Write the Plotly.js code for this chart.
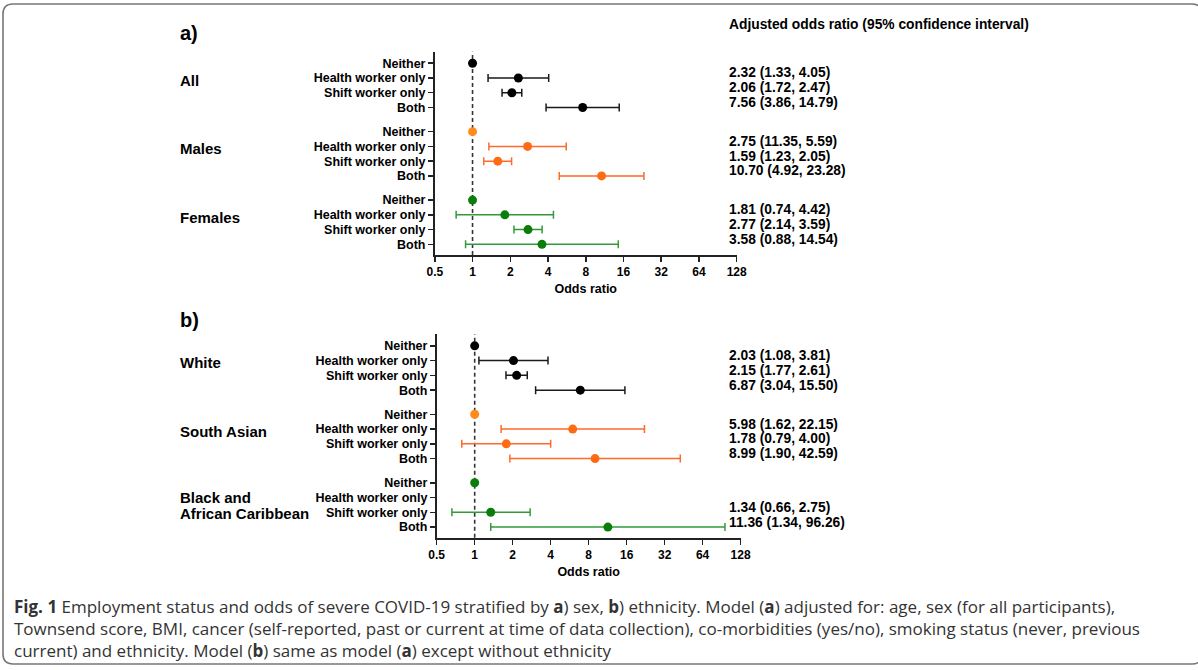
<!DOCTYPE html>
<html>
<head>
<meta charset="utf-8">
<script src="https://cdn.plot.ly/plotly-3.0.1.min.js"></script>
<style>
  html, body { margin: 0; padding: 0; background: #fff; }
  #chart { width: 1198px; height: 670px; }
</style>
</head>
<body>
<div id="chart"></div>
<script>
// ---------------- DATA ----------------
const categories = ['Neither', 'Health worker only', 'Shift worker only', 'Both'];
const xTickVals = [0.5, 1, 2, 4, 8, 16, 32, 64, 128];
const xTickText = ['0.5', '1', '2', '4', '8', '16', '32', '64', '128'];

// Panel a) by sex
const groupsA = ['All', 'Males', 'Females'];
const orAll      = [1, 2.32, 2.06, 7.56];
const loAll      = [null, 1.33, 1.72, 3.86];
const hiAll      = [null, 4.05, 2.47, 14.79];
const txtAll     = ['', '2.32 (1.33, 4.05)', '2.06 (1.72, 2.47)', '7.56 (3.86, 14.79)'];
const orMales    = [1, 2.75, 1.59, 10.70];
const loMales    = [null, 1.35, 1.23, 4.92];
const hiMales    = [null, 5.59, 2.05, 23.28];
const txtMales   = ['', '2.75 (11.35, 5.59)', '1.59 (1.23, 2.05)', '10.70 (4.92, 23.28)'];
const orFemales  = [1, 1.81, 2.77, 3.58];
const loFemales  = [null, 0.74, 2.14, 0.88];
const hiFemales  = [null, 4.42, 3.59, 14.54];
const txtFemales = ['', '1.81 (0.74, 4.42)', '2.77 (2.14, 3.59)', '3.58 (0.88, 14.54)'];

// Panel b) by ethnicity
const groupsB = ['White', 'South Asian', 'Black and<br>African Caribbean'];
const orWhite    = [1, 2.03, 2.15, 6.87];
const loWhite    = [null, 1.08, 1.77, 3.04];
const hiWhite    = [null, 3.81, 2.61, 15.50];
const txtWhite   = ['', '2.03 (1.08, 3.81)', '2.15 (1.77, 2.61)', '6.87 (3.04, 15.50)'];
const orSAsian   = [1, 5.98, 1.78, 8.99];
const loSAsian   = [null, 1.62, 0.79, 1.90];
const hiSAsian   = [null, 22.15, 4.00, 42.59];
const txtSAsian  = ['', '5.98 (1.62, 22.15)', '1.78 (0.79, 4.00)', '8.99 (1.90, 42.59)'];
const orBlack    = [1, null, 1.34, 11.36];
const loBlack    = [null, null, 0.66, 1.34];
const hiBlack    = [null, null, 2.75, 96.26];
const txtBlack   = ['', '', '1.34 (0.66, 2.75)', '11.36 (1.34, 96.26)'];

const tableHeader = 'Adjusted odds ratio (95% confidence interval)';
const xTitle = 'Odds ratio';
const captionLines = [
  '<b>Fig. 1</b> Employment status and odds of severe COVID-19 stratified by <b>a</b>) sex, <b>b</b>) ethnicity. Model (<b>a</b>) adjusted for: age, sex (for all participants),',
  'Townsend score, BMI, cancer (self-reported, past or current at time of data collection), co-morbidities (yes/no), smoking status (never, previous',
  'current) and ethnicity. Model (<b>b</b>) same as model (<b>a</b>) except without ethnicity'
];

// ---------------- STYLE ----------------
const W = 1198, H = 670;
const FONT = 'Liberation Sans, Arial, Helvetica, sans-serif';
const groupStyles = [
  {marker: '#000000', bar: '#1a1a1a', ref: '#000000'},
  {marker: '#ff6a14', bar: '#ff6a2a', ref: '#ff8c1a'},
  {marker: '#0a7d0a', bar: '#33993a', ref: '#0a7d0a'}
];
const GROUP_STEP = 4.635;       // rows between group starts
const LABEL_LINE = 1.08;        // rows between lines of a group label
const px = v => v / W;          // pixel -> paper x
const py = v => 1 - v / H;      // pixel -> paper y

const panels = [
  {
    label: 'a)', groups: groupsA,
    series: [
      {or: orAll, lo: loAll, hi: hiAll, txt: txtAll},
      {or: orMales, lo: loMales, hi: hiMales, txt: txtMales},
      {or: orFemales, lo: loFemales, hi: hiFemales, txt: txtFemales}
    ],
    xDom: [434.8, 736.7], yDom: [51.7, 255], labelY: 33, headerY: 25
  },
  {
    label: 'b)', groups: groupsB,
    series: [
      {or: orWhite, lo: loWhite, hi: hiWhite, txt: txtWhite},
      {or: orSAsian, lo: loSAsian, hi: hiSAsian, txt: txtSAsian},
      {or: orBlack, lo: loBlack, hi: hiBlack, txt: txtBlack}
    ],
    xDom: [436.7, 740.6], yDom: [334.3, 537.7], labelY: 320, headerY: null
  }
];

const traces = [];
const annotations = [];
const shapes = [];
const layout = {
  width: W, height: H,
  margin: {l: 0, r: 0, t: 0, b: 0},
  paper_bgcolor: '#ffffff', plot_bgcolor: '#ffffff',
  showlegend: false,
  font: {family: FONT, color: '#000'}
};

panels.forEach((p, pi) => {
  const sfx = pi === 0 ? '' : String(pi + 1);
  const xa = 'x' + sfx, ya = 'y' + sfx;
  const tickVals = [], tickText = [];
  p.series.forEach((s, g) => {
    const st = groupStyles[g];
    const ys = categories.map((c, i) => g * GROUP_STEP + i);
    ys.forEach((y, i) => { tickVals.push(y); tickText.push(categories[i]); });
    const plus = s.or.map((v, i) => (s.hi[i] == null || v == null) ? NaN : s.hi[i] - v);
    const minus = s.or.map((v, i) => (s.lo[i] == null || v == null) ? NaN : v - s.lo[i]);
    traces.push({
      type: 'scatter', mode: 'markers', xaxis: xa, yaxis: ya,
      x: s.or, y: ys, cliponaxis: false,
      marker: {size: 9, color: s.or.map((v, i) => i === 0 ? st.ref : st.marker)},
      error_x: {type: 'data', symmetric: false, array: plus, arrayminus: minus,
                color: st.bar, thickness: 1.5, width: 4},
      hoverinfo: 'x+y'
    });
    // OR (95% CI) text column
    s.txt.forEach((t, i) => {
      if (!t) return;
      annotations.push({
        xref: 'paper', yref: ya, x: px(727), y: ys[i], yshift: 5,
        xanchor: 'left', yanchor: 'middle', showarrow: false, text: t,
        font: {family: FONT, size: 13.8, weight: 'bold', color: '#000'}
      });
    });
    // Group label (each line placed separately for tight line spacing)
    const lines = p.groups[g].split('<br>');
    const center = ys[0] + 1.15 + 0.4 * (lines.length - 1);
    lines.forEach((ln, k) => {
      annotations.push({
        xref: 'paper', yref: ya, x: px(178),
        y: center + (k - (lines.length - 1) / 2) * LABEL_LINE,
        xanchor: 'left', yanchor: 'middle', showarrow: false, align: 'left',
        text: ln,
        font: {family: FONT, size: 15, weight: 'bold', color: '#000'}
      });
    });
  });

  layout['xaxis' + sfx] = {
    domain: [px(p.xDom[0]), px(p.xDom[1])], anchor: ya,
    type: 'log', range: [Math.log10(0.5), Math.log10(128)],
    tickvals: xTickVals, ticktext: xTickText,
    ticks: 'outside', ticklen: 5, tickwidth: 1.5, tickcolor: '#222',
    showline: true, linecolor: '#222', linewidth: 1.8,
    showgrid: false, zeroline: false,
    tickfont: {family: FONT, size: 12, weight: 'bold', color: '#000'},
    title: {text: xTitle, standoff: 6, font: {family: FONT, size: 12.5, weight: 'bold', color: '#000'}},
    fixedrange: true
  };
  layout['yaxis' + sfx] = {
    domain: [py(p.yDom[1]), py(p.yDom[0])], anchor: xa,
    range: [2 * GROUP_STEP + 3 + 0.72, -0.78],
    tickvals: tickVals, ticktext: tickText,
    ticks: 'outside', ticklen: 5, tickwidth: 1.5, tickcolor: '#222',
    showline: true, linecolor: '#222', linewidth: 1.8,
    showgrid: false, zeroline: false,
    tickfont: {family: FONT, size: 12.5, weight: 'bold', color: '#000'},
    fixedrange: true
  };

  // reference line at OR = 1
  shapes.push({
    type: 'line', xref: xa, yref: ya + ' domain', x0: 1, x1: 1, y0: 0, y1: 1,
    line: {color: '#333', width: 1.6, dash: '4px,3px'}, layer: 'below'
  });

  // panel label
  annotations.push({
    xref: 'paper', yref: 'paper', x: px(178), y: py(p.labelY),
    xanchor: 'left', yanchor: 'middle', showarrow: false, text: p.label,
    font: {family: FONT, size: 20, weight: 'bold', color: '#000'}
  });
  if (p.headerY != null) {
    annotations.push({
      xref: 'paper', yref: 'paper', x: px(727), y: py(p.headerY),
      xanchor: 'left', yanchor: 'middle', showarrow: false, text: tableHeader,
      font: {family: FONT, size: 13.8, weight: 'bold', color: '#000'}
    });
  }
});

// caption
const capY = [606, 628, 650];
captionLines.forEach((t, i) => {
  annotations.push({
    xref: 'paper', yref: 'paper', x: px(12), y: py(capY[i]),
    xanchor: 'left', yanchor: 'middle', showarrow: false, text: t,
    font: {family: 'Open Sans, Noto Sans, sans-serif', size: 17, color: '#333'}
  });
});

// rounded outer frame
(function () {
  const L = 3, T = 4, R = 1202, B = 664, r = 10;
  const path = [
    'M', px(L + r), py(T),
    'L', px(R - r), py(T),
    'Q', px(R), py(T), px(R), py(T + r),
    'L', px(R), py(B - r),
    'Q', px(R), py(B), px(R - r), py(B),
    'L', px(L + r), py(B),
    'Q', px(L), py(B), px(L), py(B - r),
    'L', px(L), py(T + r),
    'Q', px(L), py(T), px(L + r), py(T), 'Z'
  ].join(' ');
  shapes.push({type: 'path', xref: 'paper', yref: 'paper', path: path,
               line: {color: '#777', width: 1.6}, layer: 'below'});
})();

layout.annotations = annotations;
layout.shapes = shapes;

Plotly.newPlot('chart', traces, layout, {displayModeBar: false, staticPlot: true});
</script>
</body>
</html>
